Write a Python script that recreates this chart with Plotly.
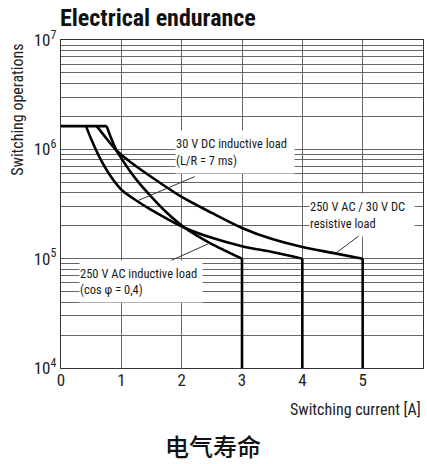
import math
import plotly.graph_objects as go

# ---------------- data ----------------
plateau_x = [0.0, 0.76]
plateau_y = [1.63e6, 1.63e6]

ac_ind_x = [0.757, 0.83, 0.923, 1.006, 1.144, 1.31, 1.475, 1.724, 2.055, 2.47, 3.0]
ac_ind_y = [1.63e6, 1.27e6, 9.7e5, 8.2e5, 6.3e5, 4.8e5, 3.8e5, 2.73e5, 1.91e5, 1.39e5, 1.0e5]

dc_ind_x = [0.414, 0.514, 0.646, 0.812, 1.006, 1.26, 1.475, 2.02, 2.5, 3.0, 3.5, 4.0]
dc_ind_y = [1.63e6, 1.19e6, 8.3e5, 5.8e5, 4.25e5, 3.37e5, 2.84e5, 1.95e5, 1.55e5, 1.3e5, 1.15e5, 1.0e5]

res_x = [0.592, 0.757, 0.923, 1.144, 1.475, 2.0, 2.5, 3.0, 3.5, 4.0, 4.5, 5.0]
res_y = [1.63e6, 1.25e6, 9.7e5, 7.7e5, 5.7e5, 3.67e5, 2.62e5, 1.91e5, 1.51e5, 1.28e5, 1.13e5, 1.0e5]

floor_y = 1.0e4

x_ticks = [0, 1, 2, 3, 4, 5, 6]
decades = [4, 5, 6, 7]

labels = {
    "dc": "30 V DC inductive load<br>(L/R = 7 ms)",
    "res": "250 V AC / 30 V DC<br>resistive load",
    "ac": "250 V AC inductive load<br>(cos φ = 0,4)",
}

FONT = "Roboto Condensed, Liberation Sans Narrow, DejaVu Sans Condensed, sans-serif"
LINE = dict(color="black", width=2.6)

fig = go.Figure()

fig.add_trace(go.Scatter(x=plateau_x, y=plateau_y, mode="lines", line=LINE,
                         showlegend=False, hoverinfo="skip"))
for xs, ys in [(ac_ind_x, ac_ind_y), (dc_ind_x, dc_ind_y), (res_x, res_y)]:
    fig.add_trace(go.Scatter(x=xs, y=ys, mode="lines",
                             line=dict(color="black", width=2.6, shape="spline", smoothing=0.8),
                             showlegend=False, hoverinfo="skip"))
    fig.add_trace(go.Scatter(x=[xs[-1], xs[-1]], y=[ys[-1], floor_y], mode="lines",
                             line=LINE, showlegend=False, hoverinfo="skip"))

# y ticks: every 1..9 x decade (gridlines), label only decades
tickvals, ticktext = [], []
for d in decades[:-1]:
    for m in range(1, 10):
        tickvals.append(m * 10 ** d)
        ticktext.append(f"10<sup>{d}</sup>" if m == 1 else "")
tickvals.append(10 ** decades[-1])
ticktext.append(f"10<sup>{decades[-1]}</sup>")

GRID = "#666666"
fig.update_xaxes(range=[0, 6], tickvals=x_ticks, showgrid=True, gridcolor=GRID, gridwidth=1,
                 showline=True, linecolor="#333", linewidth=1.2, mirror=True, ticks="",
                 zeroline=False, automargin=False, ticklabelstandoff=-4,
                 tickfont=dict(family=FONT, size=17, color="#222"))
fig.update_yaxes(type="log", range=[4, 7], tickvals=tickvals, ticktext=ticktext,
                 showgrid=True, gridcolor=GRID, gridwidth=1, automargin=False,
                 showline=True, linecolor="#333", linewidth=1.2, mirror=True, ticks="",
                 zeroline=False, tickfont=dict(family=FONT, size=17, color="#222"))

TXT = dict(family=FONT, size=12.5, color="#1a1a1a")

def lg(v):
    return math.log10(v)

# label boxes (white background hides grid)
fig.add_annotation(x=2.884, y=5.976, xref="x", yref="y", text=labels["dc"], showarrow=False,
                   width=118, height=42, align="left", valign="middle", bgcolor="white",
                   borderpad=0, font=TXT)
fig.add_annotation(x=4.99, y=5.399, xref="x", yref="y", text=labels["res"], showarrow=False,
                   width=104, height=42, align="left", valign="middle", bgcolor="white",
                   borderpad=0, font=TXT)
fig.add_annotation(x=1.326, y=4.791, xref="x", yref="y", text=labels["ac"], showarrow=False,
                   width=122, height=41, align="left", valign="middle", bgcolor="white",
                   borderpad=0, font=TXT)

# leader lines
ARR = dict(showarrow=True, arrowhead=0, arrowwidth=1, arrowcolor="#333", xref="x", yref="y",
           axref="x", ayref="y", text="")
fig.add_annotation(x=1.26, y=lg(3.37e5), ax=2.24, ay=5.756, **ARR)
fig.add_annotation(x=4.57, y=5.056, ax=4.956, ay=5.216, **ARR)
fig.add_annotation(x=2.47, y=lg(1.39e5), ax=1.807, ay=4.979, **ARR)

# titles
fig.add_annotation(x=0, y=1, xref="paper", yref="paper", xanchor="left", yanchor="bottom",
                   yshift=6, xshift=-3, text="<b>Electrical endurance</b>", showarrow=False,
                   font=dict(family=FONT, size=24, color="#111"))
fig.add_annotation(x=-0.119, y=0.787, xref="paper", yref="paper", xanchor="center",
                   yanchor="middle", textangle=-90,
                   text="Switching operations", showarrow=False,
                   font=dict(family=FONT, size=16, color="#222"))
fig.add_annotation(x=1, y=0, xref="paper", yref="paper", xanchor="right", yanchor="top",
                   yshift=-30, xshift=0, text="Switching current [A]", showarrow=False,
                   font=dict(family=FONT, size=16, color="#222"))
fig.add_annotation(x=0.421, y=0, xref="paper", yref="paper", xanchor="center", yanchor="middle",
                   yshift=-77, text="电气寿命", showarrow=False,
                   font=dict(family="Noto Sans CJK SC", size=24, color="#111", weight=500))

fig.update_layout(template="none", width=427, height=464,
                  margin=dict(l=61, r=4, t=40, b=96, autoexpand=False),
                  plot_bgcolor="white", paper_bgcolor="white", showlegend=False)

fig.write_html("out.html", config={"displayModeBar": False, "staticPlot": True},
               post_script="document.body.style.margin='0px';")
